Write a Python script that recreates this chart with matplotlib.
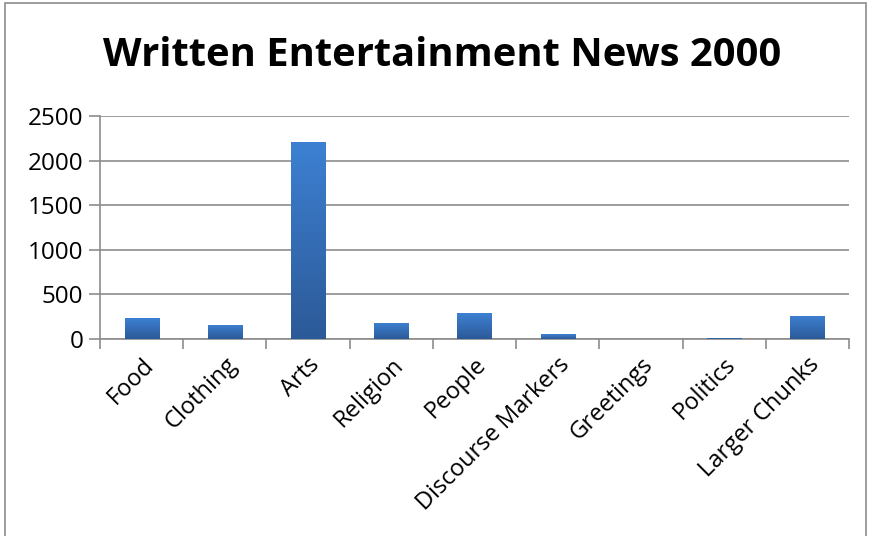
import numpy as np
import matplotlib
matplotlib.use('Agg')
import matplotlib.pyplot as plt
from matplotlib.patches import Rectangle
from matplotlib.colors import LinearSegmentedColormap

categories = ['Food', 'Clothing', 'Arts', 'Religion', 'People',
              'Discourse Markers', 'Greetings', 'Politics', 'Larger Chunks']
counts = [235, 157, 2210, 180, 290, 55, 0, 15, 260]
yticks = [0, 500, 1000, 1500, 2000, 2500]

plt.rcParams['font.family'] = ['Open Sans', 'DejaVu Sans']

fig = plt.figure(figsize=(8.72, 5.36), dpi=100)
fig.patches.append(Rectangle((0.006, -0.01), 0.987, 1.004, transform=fig.transFigure,
                             fill=False, edgecolor='#8c8c8c', linewidth=1.2))

ax = fig.add_axes([100/872, 1 - 339/536, 749/872, 223/536])
x = np.arange(len(categories))
bars = ax.bar(x, counts, width=0.41, color='#3a74c0', zorder=3)

# vertical gradient inside each bar
grad = LinearSegmentedColormap.from_list('g', ['#2c5a98', '#3d80d2'])
for b in bars:
    if b.get_height() <= 0:
        continue
    im = ax.imshow(np.linspace(0, 1, 64).reshape(-1, 1), cmap=grad, origin='lower',
                   extent=[b.get_x(), b.get_x() + b.get_width(), 0, b.get_height()],
                   aspect='auto', zorder=4)
    im.set_clip_path(b)

ax.set_xlim(-0.5, len(categories) - 0.5)
ax.set_ylim(0, 2500)
ax.set_yticks(yticks)
ax.set_yticklabels([str(v) for v in yticks], fontsize=17.5)
ax.yaxis.grid(True, color='#8c8c8c', linewidth=1.2, zorder=0)
ax.tick_params(axis='y', length=8, width=1.2, color='#8c8c8c', pad=4)

ax.set_xticks(np.arange(len(categories) + 1) - 0.5, minor=False)
ax.set_xticklabels([])
ax.tick_params(axis='x', which='major', length=7, width=1.2, color='#8c8c8c')
ax.set_xticks(x, minor=True)
ax.set_xticklabels(categories, minor=True, rotation=45, ha='right', va='top',
                   rotation_mode='anchor', fontsize=17)
ax.tick_params(axis='x', which='minor', length=0, pad=10)

for s in ['top', 'right']:
    ax.spines[s].set_visible(False)
ax.spines['left'].set_color('#8c8c8c')
ax.spines['bottom'].set_color('#8c8c8c')
ax.spines['left'].set_linewidth(1.2)
ax.spines['bottom'].set_linewidth(1.2)

fig.text(442/872, 1 - 55/536, 'Written Entertainment News 2000', ha='center', va='center',
         fontsize=28.7, fontweight='bold')

fig.savefig('out.png', dpi=100)
